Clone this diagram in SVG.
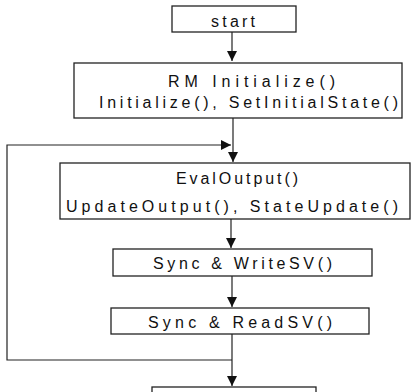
<svg xmlns="http://www.w3.org/2000/svg" width="413" height="392" viewBox="0 0 413 392">
<defs>
<style>
.box{fill:#fff;stroke:#222;stroke-width:1.3}
.t{font-family:"Liberation Sans",Arial,sans-serif;font-size:16px;fill:#111}
.c{fill:none;stroke:#222;stroke-width:1.2}
</style>
<marker id="ah" viewBox="0 0 10 10" refX="10" refY="5" markerWidth="10" markerHeight="10" markerUnits="userSpaceOnUse" orient="auto">
<path d="M0,0 L10,5 L0,10 Z" fill="#111"/>
</marker>
</defs>
<rect width="413" height="392" fill="#fff"/>
<g id="connectors">
<path class="c" d="M232,32 V61" marker-end="url(#ah)"/>
<path class="c" d="M233,118 V162" marker-end="url(#ah)"/>
<path class="c" d="M232,360 H7 V145 H231" marker-end="url(#ah)"/>
<path class="c" d="M231,219 V248" marker-end="url(#ah)"/>
<path class="c" d="M232,276 V307" marker-end="url(#ah)"/>
<path class="c" d="M232,334 V386" marker-end="url(#ah)"/>
</g>
<g id="start">
<rect class="box" x="172" y="6" width="124" height="26"/>
<text class="t" x="211" y="27" textLength="44" lengthAdjust="spacing">start</text>
</g>
<g id="rminit">
<rect class="box" x="74" y="63" width="328" height="55"/>
<text class="t" x="168" y="87" textLength="167" lengthAdjust="spacing">RM Initialize()</text>
<text class="t" x="99" y="108" textLength="299" lengthAdjust="spacing">Initialize(), SetInitialState()</text>
</g>
<g id="evaloutput">
<rect class="box" x="60" y="163" width="350" height="56"/>
<text class="t" x="176" y="184" textLength="122" lengthAdjust="spacing">EvalOutput()</text>
<text class="t" x="66" y="212" textLength="332" lengthAdjust="spacing">UpdateOutput(), StateUpdate()</text>
</g>
<g id="writesv">
<rect class="box" x="113" y="249" width="259" height="27"/>
<text class="t" x="153" y="269" textLength="179" lengthAdjust="spacing">Sync &amp; WriteSV()</text>
</g>
<g id="readsv">
<rect class="box" x="111" y="308" width="258" height="26"/>
<text class="t" x="148" y="328" textLength="184" lengthAdjust="spacing">Sync &amp; ReadSV()</text>
</g>
<g id="end">
<rect class="box" x="152" y="387" width="164" height="20"/>
</g>
</svg>
